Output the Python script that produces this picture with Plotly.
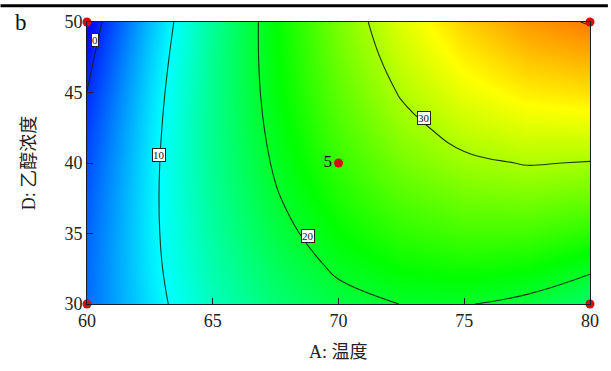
import plotly.graph_objects as go

# --- data ---
A_vals = [60, 62.5, 65, 67.5, 70, 72.5, 75, 77.5, 80]          # A: 温度
D_vals = [30, 32.5, 35, 37.5, 40, 42.5, 45, 47.5, 50]          # D: 乙醇浓度
Z = [
    [3.12, 8.69, 13.17, 16.55, 18.85, 20.05, 20.17, 19.19, 17.12],
    [2.98, 9.00, 13.92, 17.75, 20.49, 22.14, 22.69, 22.16, 20.53],
    [2.70, 9.15, 14.52, 18.79, 21.98, 24.07, 25.07, 24.98, 23.80],
    [2.26, 9.16, 14.97, 19.69, 23.31, 25.85, 27.29, 27.65, 26.91],
    [1.67, 9.01, 15.27, 20.43, 24.50, 27.48, 29.37, 30.16, 29.87],
    [0.93, 8.72, 15.42, 21.02, 25.54, 28.96, 31.29, 32.53, 32.68],
    [0.05, 8.28, 15.42, 21.47, 26.43, 30.29, 33.07, 34.75, 35.35],
    [-0.99, 7.68, 15.27, 21.76, 27.16, 31.47, 34.69, 36.82, 37.86],
    [-2.18, 6.94, 14.97, 21.90, 27.75, 32.50, 36.17, 38.74, 40.22],
]
design_A = [60, 60, 80, 80, 70]
design_D = [30, 50, 30, 50, 40]
design_text = ["", "", "", "", "5"]
label_text = ["0", "10", "20", "30"]
label_A = [60.32, 62.85, 68.79, 73.4]
label_D = [48.74, 40.56, 34.79, 43.18]
x_ticks = [60, 65, 70, 75, 80]
y_ticks = [30, 35, 40, 45, 50]

serif = "Liberation Serif, Times New Roman, serif"
cjk = "Liberation Serif, Noto Sans CJK SC, serif"

fig = go.Figure()
fig.add_trace(go.Contour(
    x=A_vals, y=D_vals, z=Z,
    colorscale=[[0, "#0000ff"], [0.25, "#00ffff"], [0.5, "#00ff00"],
                [0.75, "#ffff00"], [1, "#ff0000"]],
    zmin=-2, zmax=46, showscale=False,
    contours=dict(coloring="heatmap", start=0, end=40, size=10, showlabels=False),
    line=dict(color="rgba(15,35,15,0.9)", width=1.1, smoothing=1.3),
    hoverinfo="skip",
))
fig.add_trace(go.Scatter(
    x=design_A, y=design_D, mode="markers+text", text=design_text,
    textposition="middle left",
    textfont=dict(family=serif, size=17, color="#111"),
    marker=dict(color="#d01010", size=9, line=dict(width=0)),
    cliponaxis=False, showlegend=False, hoverinfo="skip",
))

annotations = []
for t, xa, yd in zip(label_text, label_A, label_D):
    annotations.append(dict(
        x=xa, y=yd, xref="x", yref="y", text=t, showarrow=False,
        font=dict(family=serif, size=11, color="#111"),
        bgcolor="white", bordercolor="#222", borderwidth=1, borderpad=0,
    ))
annotations += [
    dict(x=0.5, y=-0.1713, xref="paper", yref="paper", text="A: 温度",
         showarrow=False, font=dict(family=cjk, size=18, color="#222"),
         xanchor="center", yanchor="middle"),
    dict(x=-0.1156, y=0.5017, xref="paper", yref="paper", text="D: 乙醇浓度",
         showarrow=False, textangle=-90, font=dict(family=cjk, size=18, color="#222"),
         xanchor="center", yanchor="middle"),
    dict(x=-0.1304, y=0.9965, xref="paper", yref="paper", text="b",
         showarrow=False, font=dict(family=serif, size=23, color="#111"),
         xanchor="center", yanchor="middle"),
]

fig.update_layout(
    width=611, height=371,
    margin=dict(l=87, r=18, t=18, b=67, pad=0),
    paper_bgcolor="white", plot_bgcolor="white",
    annotations=annotations,
    shapes=[dict(type="rect", xref="paper", yref="paper",
                 x0=-87 / 506, x1=524 / 506, y0=1 + 15 / 286, y1=1 + 18 / 286,
                 fillcolor="black", line=dict(width=0))],
    xaxis=dict(range=[60, 80], tickvals=x_ticks, ticks="inside", ticklen=6,
               tickcolor="#222", showline=True, linecolor="#1a1a2a", linewidth=1,
               mirror=True, showgrid=False, zeroline=False,
               tickfont=dict(family=serif, size=18, color="#222")),
    yaxis=dict(range=[30, 50], tickvals=y_ticks, ticks="inside", ticklen=6,
               tickcolor="#222", showline=True, linecolor="#1a1a2a", linewidth=1,
               mirror=True, showgrid=False, zeroline=False,
               tickfont=dict(family=serif, size=18, color="#222")),
)
fig.write_html("out.html")
